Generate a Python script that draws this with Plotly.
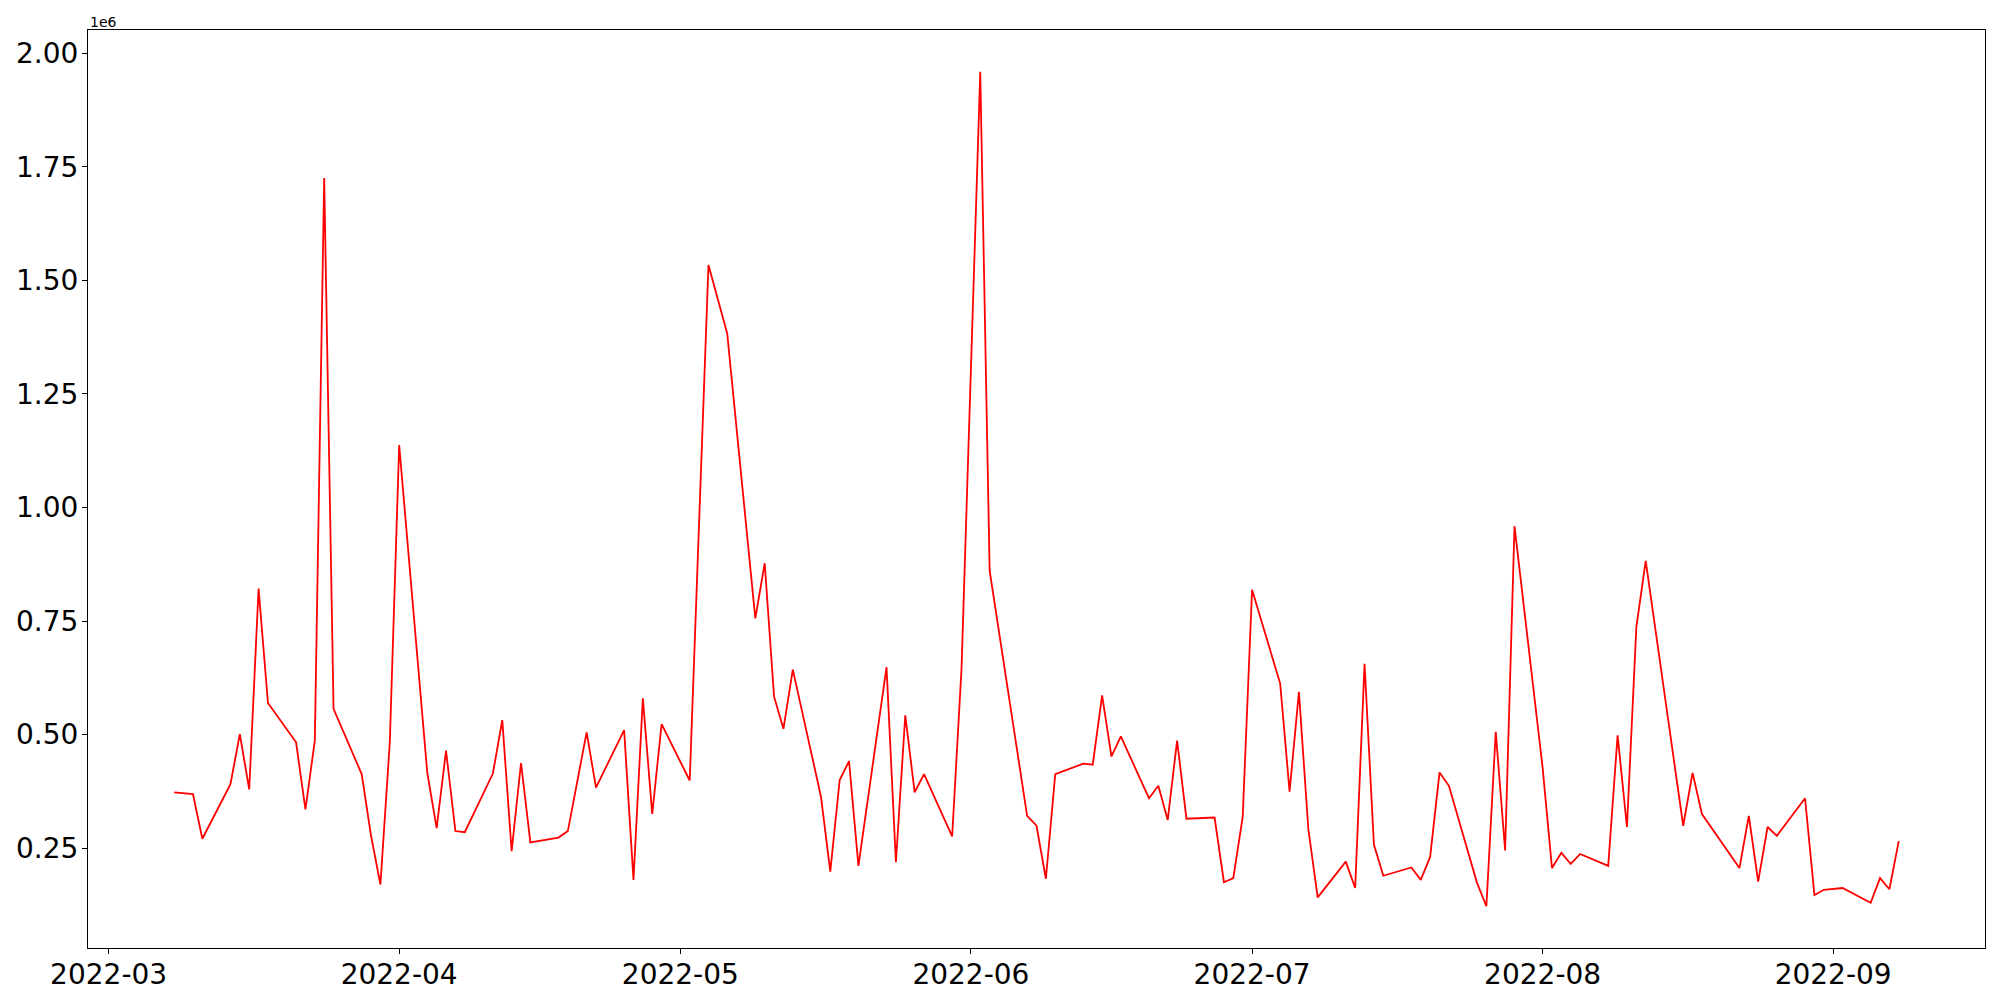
import pandas as pd
import plotly.graph_objects as go

dates = [
    "2022-03-08", "2022-03-10", "2022-03-11", "2022-03-14", "2022-03-15", "2022-03-16", "2022-03-17", "2022-03-18",
    "2022-03-21", "2022-03-22", "2022-03-23", "2022-03-24", "2022-03-25", "2022-03-28", "2022-03-29", "2022-03-30",
    "2022-03-31", "2022-04-01", "2022-04-04", "2022-04-05", "2022-04-06", "2022-04-07", "2022-04-08", "2022-04-11",
    "2022-04-12", "2022-04-13", "2022-04-14", "2022-04-15", "2022-04-18", "2022-04-19", "2022-04-21", "2022-04-22",
    "2022-04-25", "2022-04-26", "2022-04-27", "2022-04-28", "2022-04-29", "2022-05-02", "2022-05-04", "2022-05-06",
    "2022-05-09", "2022-05-10", "2022-05-11", "2022-05-12", "2022-05-13", "2022-05-16", "2022-05-17", "2022-05-18",
    "2022-05-19", "2022-05-20", "2022-05-23", "2022-05-24", "2022-05-25", "2022-05-26", "2022-05-27", "2022-05-30",
    "2022-05-31", "2022-06-02", "2022-06-03", "2022-06-07", "2022-06-08", "2022-06-09", "2022-06-10", "2022-06-13",
    "2022-06-14", "2022-06-15", "2022-06-16", "2022-06-17", "2022-06-20", "2022-06-21", "2022-06-22", "2022-06-23",
    "2022-06-24", "2022-06-27", "2022-06-28", "2022-06-29", "2022-06-30", "2022-07-01", "2022-07-04", "2022-07-05",
    "2022-07-06", "2022-07-07", "2022-07-08", "2022-07-11", "2022-07-12", "2022-07-13", "2022-07-14", "2022-07-15",
    "2022-07-18", "2022-07-19", "2022-07-20", "2022-07-21", "2022-07-22", "2022-07-25", "2022-07-26", "2022-07-27",
    "2022-07-28", "2022-07-29", "2022-08-01", "2022-08-02", "2022-08-03", "2022-08-04", "2022-08-05", "2022-08-08",
    "2022-08-09", "2022-08-10", "2022-08-11", "2022-08-12", "2022-08-16", "2022-08-17", "2022-08-18", "2022-08-22",
    "2022-08-23", "2022-08-24", "2022-08-25", "2022-08-26", "2022-08-29", "2022-08-30", "2022-08-31", "2022-09-02",
    "2022-09-05", "2022-09-06", "2022-09-07", "2022-09-08",
]

# values in units of 1e6
values = [
    0.3729, 0.3689, 0.2706, 0.3909, 0.5009, 0.3793, 0.8216, 0.5695,
    0.4829, 0.3353, 0.4866, 1.7257, 0.5565, 0.4129, 0.2771, 0.1698,
    0.4829, 1.1374, 0.4156, 0.2939, 0.4645, 0.2875, 0.2849, 0.4142,
    0.5319, 0.2434, 0.4374, 0.2627, 0.2732, 0.2875, 0.5049, 0.3832,
    0.5099, 0.1801, 0.5798, 0.3250, 0.5229, 0.3988, 1.5340, 1.3831,
    0.7557, 0.8773, 0.5835, 0.5126, 0.6431, 0.3637, 0.1983, 0.3999,
    0.4414, 0.2110, 0.6483, 0.2189, 0.5424, 0.3729, 0.4129, 0.2758,
    0.6450, 1.9595, 0.8610, 0.3210, 0.2992, 0.1825, 0.4129, 0.4361,
    0.4337, 0.5862, 0.4517, 0.4958, 0.3598, 0.3871, 0.3119, 0.4866,
    0.3147, 0.3173, 0.1748, 0.1839, 0.3186, 0.8190, 0.6123, 0.3742,
    0.5939, 0.2926, 0.1414, 0.2203, 0.1621, 0.6560, 0.2577, 0.1891,
    0.2073, 0.1801, 0.2306, 0.4167, 0.3871, 0.1735, 0.1219, 0.5060,
    0.2447, 0.9588, 0.4272, 0.2060, 0.2396, 0.2150, 0.2370, 0.2110,
    0.4983, 0.2965, 0.7364, 0.8825, 0.2992, 0.4156, 0.3250, 0.2060,
    0.3210, 0.1762, 0.2965, 0.2771, 0.3598, 0.1465, 0.1581, 0.1621,
    0.1296, 0.1839, 0.1594, 0.2655,
]

y_tickvals = [0.25, 0.50, 0.75, 1.00, 1.25, 1.50, 1.75, 2.00]
y_ticktext = ["0.25", "0.50", "0.75", "1.00", "1.25", "1.50", "1.75", "2.00"]
x_tickvals = ["2022-03-01", "2022-04-01", "2022-05-01", "2022-06-01", "2022-07-01", "2022-08-01", "2022-09-01"]
x_ticktext = ["2022-03", "2022-04", "2022-05", "2022-06", "2022-07", "2022-08", "2022-09"]

dt = pd.to_datetime(dates)
span = dt.max() - dt.min()
x_range = [dt.min() - span * 0.05, dt.max() + span * 0.05]
vmin, vmax = min(values), max(values)
vr = vmax - vmin
y_range = [vmin - 0.05 * vr, vmax + 0.05 * vr]

fig = go.Figure()
fig.add_trace(go.Scatter(x=dt, y=values, mode="lines",
                         line=dict(color="#ff0000", width=1.8), showlegend=False))

axis_common = dict(showline=True, linecolor="black", linewidth=1.1, mirror=True,
                   ticks="outside", ticklen=5, tickwidth=1.1, tickcolor="black",
                   showgrid=False, zeroline=False, automargin=False,
                   tickfont=dict(family="DejaVu Sans", size=28, color="black"))

fig.update_xaxes(range=x_range, tickvals=pd.to_datetime(x_tickvals), ticktext=x_ticktext,
                 ticklabelstandoff=-4, **axis_common)
fig.update_yaxes(range=y_range, tickvals=y_tickvals, ticktext=y_ticktext,
                 ticklabelstandoff=-2, **axis_common)

fig.add_annotation(text="1e6", xref="paper", yref="paper", x=0, y=1, xanchor="left", yanchor="bottom",
                   showarrow=False, yshift=-2, font=dict(family="DejaVu Sans", size=14, color="black"))

# page body has an 8px margin, so the figure is sized and offset to compensate
fig.update_layout(width=1984, height=984, plot_bgcolor="white", paper_bgcolor="white",
                  margin=dict(l=79.5, r=6.5, t=22, b=43.7, autoexpand=False))

fig.write_html("out.html")
